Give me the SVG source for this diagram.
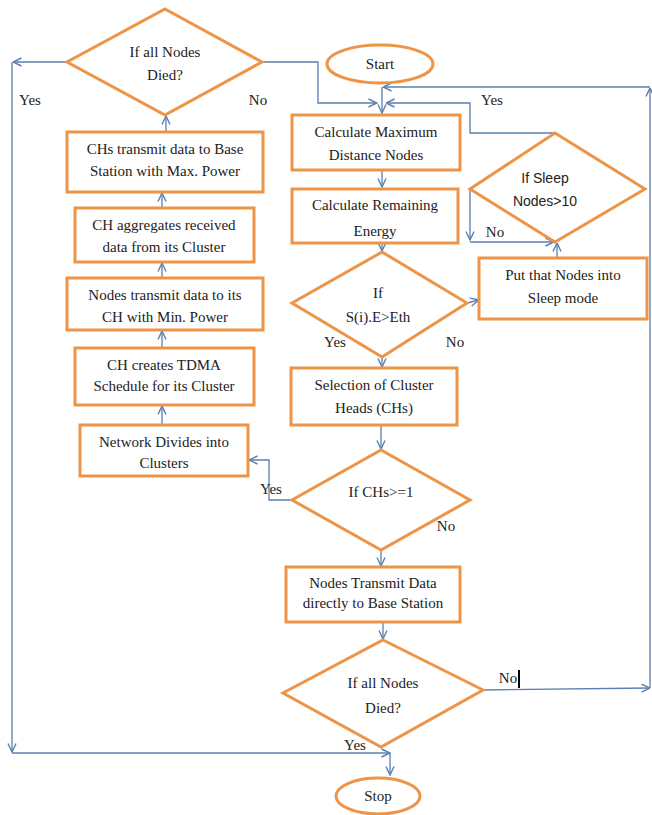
<svg xmlns="http://www.w3.org/2000/svg" width="652" height="815" viewBox="0 0 652 815">
<defs>
<marker id="ah" viewBox="0 0 10 10" refX="9.5" refY="5" markerWidth="10" markerHeight="10" markerUnits="userSpaceOnUse" orient="auto">
<path d="M1,1 L9.5,5 L1,9" fill="none" stroke="#5A7FB0" stroke-width="1.4"/>
</marker>
</defs>
<style>
.s{fill:#fff;stroke:#EE9447;stroke-width:3}
.t{font-family:"Liberation Serif","Times New Roman",serif;font-size:15px;fill:#222;text-anchor:middle}
.ts{font-family:"Liberation Sans",Arial,sans-serif;font-size:14px;fill:#222;text-anchor:middle}
.c{fill:none;stroke:#5A7FB0;stroke-width:1.3}
.ca{fill:none;stroke:#5A7FB0;stroke-width:1.3;marker-end:url(#ah)}
</style>
<rect width="652" height="815" fill="#fff"/>

<g id="connectors">
<!-- top-left diamond yes -->
<path class="ca" d="M67,62 L13,62"/>
<path class="ca" d="M12,62 L12,752"/>
<path class="ca" d="M12,753 L390,753"/>
<!-- top-left diamond no -->
<path class="ca" d="M262,62 L318,62 L318,103 L377,103"/>
<!-- right loop -->
<path class="ca" d="M483,690 L650,688"/>
<path class="ca" d="M650,688 L650,88"/>
<path class="ca" d="M650,87 L383,87"/>
<path class="ca" d="M382,87 L382,113"/>
<!-- sleep yes -->
<path class="ca" d="M555,133 L470,133 L470,103 L386,103"/>
<!-- sleep no -->
<path class="ca" d="M470,189 L470,240"/>
<path class="ca" d="M470,242 L554,242"/>
<path class="ca" d="M557,258 L557,243"/>
<!-- main column -->
<path class="ca" d="M382,170 L382,187"/>
<path class="ca" d="M382,243 L382,251"/>
<path class="ca" d="M467,303 L479,300"/>
<path class="ca" d="M382,357 L382,367"/>
<path class="ca" d="M381,425 L381,449"/>
<path class="ca" d="M381,550 L381,566"/>
<path class="ca" d="M383,622 L383,639"/>
<path class="ca" d="M390,753 L390,775"/>
<!-- CHs yes -->
<path class="ca" d="M292,500 L269,500 L269,460 L249,460"/>
<!-- left column up arrows -->
<path class="ca" d="M162,425 L162,406"/>
<path class="ca" d="M162,348 L162,331"/>
<path class="ca" d="M162,278 L162,263"/>
<path class="ca" d="M162,208 L162,193"/>
<path class="ca" d="M166,132 L166,116"/>
</g>

<g id="diamond-top">
<polygon class="s" points="165,9 262,62 165,115 67,62"/>
<text class="t" x="165" y="57">If all Nodes</text>
<text class="t" x="165" y="80">Died?</text>
</g>
<g id="start">
<ellipse class="s" cx="380" cy="64" rx="53" ry="19"/>
<text class="t" x="380" y="69">Start</text>
</g>
<g id="box-chs-transmit">
<rect class="s" x="67" y="132" width="196" height="60"/>
<text class="t" x="165" y="154">CHs transmit data to Base</text>
<text class="t" x="165" y="176">Station with Max. Power</text>
</g>
<g id="box-aggregate">
<rect class="s" x="75" y="208" width="179" height="54"/>
<text class="t" x="164" y="230">CH aggregates  received</text>
<text class="t" x="164" y="252">data from its Cluster</text>
</g>
<g id="box-nodes-transmit">
<rect class="s" x="67" y="278" width="196" height="52"/>
<text class="t" x="165" y="300">Nodes transmit data to its</text>
<text class="t" x="165" y="322">CH with Min. Power</text>
</g>
<g id="box-tdma">
<rect class="s" x="75" y="348" width="179" height="57"/>
<text class="t" x="164" y="370">CH creates TDMA</text>
<text class="t" x="164" y="391">Schedule for its Cluster</text>
</g>
<g id="box-network">
<rect class="s" x="80" y="425" width="168" height="51"/>
<text class="t" x="164" y="447">Network Divides into</text>
<text class="t" x="164" y="468">Clusters</text>
</g>
<g id="box-max-distance">
<rect class="s" x="292" y="115" width="168" height="55"/>
<text class="t" x="376" y="137">Calculate Maximum</text>
<text class="t" x="376" y="160">Distance Nodes</text>
</g>
<g id="box-remaining">
<rect class="s" x="292" y="189" width="166" height="54"/>
<text class="t" x="375" y="210">Calculate Remaining</text>
<text class="t" x="375" y="236">Energy</text>
</g>
<g id="diamond-sleep">
<polygon class="s" points="555,133 645,189 555,242 470,189"/>
<text class="ts" x="545" y="183">If Sleep</text>
<text class="ts" x="545" y="206">Nodes&gt;10</text>
</g>
<g id="box-sleep">
<rect class="s" x="479" y="258" width="168" height="61"/>
<text class="t" x="563" y="280">Put that Nodes into</text>
<text class="t" x="563" y="303">Sleep mode</text>
</g>
<g id="diamond-energy">
<polygon class="s" points="382,252 467,303 382,357 292,303"/>
<text class="t" x="378" y="298">If</text>
<text class="t" x="378" y="322">S(i).E&gt;Eth</text>
</g>
<g id="box-selection">
<rect class="s" x="291" y="368" width="166" height="57"/>
<text class="t" x="374" y="390">Selection of Cluster</text>
<text class="t" x="374" y="413">Heads (CHs)</text>
</g>
<g id="diamond-chs">
<polygon class="s" points="381,450 470,500 381,550 292,500"/>
<text class="t" x="381" y="497">If CHs&gt;=1</text>
</g>
<g id="box-direct">
<rect class="s" x="286" y="567" width="174" height="55"/>
<text class="t" x="373" y="588">Nodes Transmit Data</text>
<text class="t" x="373" y="608">directly to Base Station</text>
</g>
<g id="diamond-bottom">
<polygon class="s" points="383,640 483,690 381,747 283,693"/>
<text class="t" x="383" y="688">If all Nodes</text>
<text class="t" x="383" y="713">Died?</text>
</g>
<g id="stop">
<ellipse class="s" cx="378" cy="796" rx="42" ry="18"/>
<text class="t" x="378" y="801">Stop</text>
</g>

<g id="labels">
<text class="t" x="30" y="105">Yes</text>
<text class="t" x="258" y="105">No</text>
<text class="t" x="492" y="105">Yes</text>
<text class="t" x="495" y="237">No</text>
<text class="t" x="335" y="347">Yes</text>
<text class="t" x="455" y="347">No</text>
<text class="t" x="271" y="494">Yes</text>
<text class="t" x="446" y="531">No</text>
<text class="t" x="508" y="683">No</text>
<rect x="518" y="670" width="2" height="18" fill="#000"/>
<text class="t" x="355" y="750">Yes</text>
</g>
</svg>
